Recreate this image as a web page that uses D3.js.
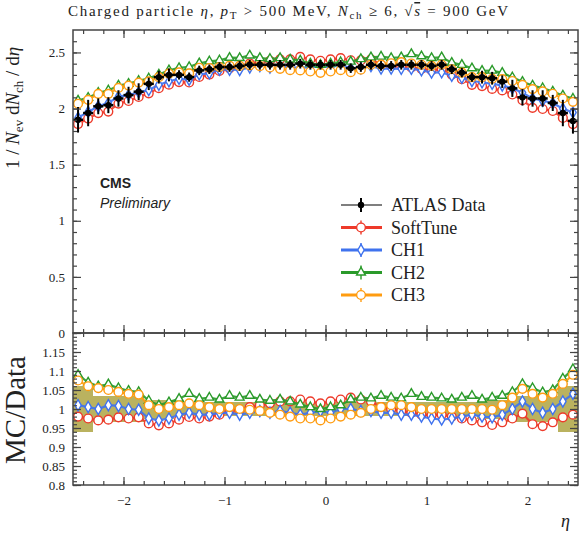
<!DOCTYPE html>
<html>
<head>
<meta charset="utf-8">
<script src="https://cdn.jsdelivr.net/npm/d3@7"></script>
<style>
    body { margin: 0; background: #fff; }
    text { font-family: "Liberation Serif", "DejaVu Serif", serif; fill: #222; }
</style>
</head>
<body>
<svg id="chart" width="580" height="534"></svg>
<script>
    'use strict';

    // bin centres in eta
    var etaCenters = [-2.45, -2.35, -2.25, -2.15, -2.05, -1.95, -1.85, -1.75, -1.65, -1.55,
        -1.45, -1.35, -1.25, -1.15, -1.05, -0.95, -0.85, -0.75, -0.65, -0.55,
        -0.45, -0.35, -0.25, -0.15, -0.05, 0.05, 0.15, 0.25, 0.35, 0.45,
        0.55, 0.65, 0.75, 0.85, 0.95, 1.05, 1.15, 1.25, 1.35, 1.45,
        1.55, 1.65, 1.75, 1.85, 1.95, 2.05, 2.15, 2.25, 2.35, 2.45];
    var binHalfWidth = 0.05;

    var atlasValues = [1.90, 1.96, 2.02, 2.03, 2.09, 2.12, 2.15, 2.22, 2.28, 2.30,
        2.30, 2.28, 2.34, 2.35, 2.37, 2.37, 2.38, 2.39, 2.39, 2.39,
        2.39, 2.39, 2.40, 2.39, 2.39, 2.39, 2.39, 2.36, 2.37, 2.39,
        2.38, 2.38, 2.39, 2.39, 2.39, 2.38, 2.39, 2.35, 2.32, 2.28,
        2.28, 2.27, 2.24, 2.18, 2.10, 2.09, 2.09, 2.05, 1.96, 1.89];

    // relative uncertainty of the data (ratio band)
    var atlasRelErr = [0.06, 0.06, 0.035, 0.035, 0.035, 0.035, 0.035, 0.025, 0.025, 0.025,
        0.018, 0.018, 0.018, 0.018, 0.018, 0.018, 0.018, 0.018, 0.018, 0.018,
        0.018, 0.018, 0.018, 0.018, 0.018, 0.018, 0.018, 0.018, 0.018, 0.018,
        0.018, 0.018, 0.018, 0.018, 0.018, 0.018, 0.018, 0.018, 0.018, 0.018,
        0.025, 0.025, 0.025, 0.035, 0.035, 0.035, 0.035, 0.035, 0.06, 0.06];

    // MC / Data
    var softTuneRatio = [0.98, 0.975, 0.97, 0.972, 0.978, 0.975, 0.978, 0.962, 0.957, 0.962,
        0.972, 0.979, 0.975, 0.98, 0.985, 0.995, 0.998, 1.005, 1.01, 1.015,
        1.02, 1.02, 1.025, 1.02, 1.015, 1.02, 1.025, 1.03, 1.025, 1.02,
        1.005, 1.0, 0.995, 0.99, 0.985, 0.983, 0.985, 0.98, 0.975, 0.97,
        0.965, 0.958, 0.965, 0.975, 0.988, 0.96, 0.955, 0.965, 0.978, 0.985];
    var ch1Ratio = [1.01, 1.005, 1.0, 1.01, 1.008, 1.0, 0.998, 0.975, 0.97, 0.975,
        0.985, 0.99, 0.985, 0.985, 0.99, 0.99, 0.985, 0.99, 0.995, 0.99,
        0.995, 0.99, 0.985, 0.99, 0.995, 0.99, 1.0, 1.0, 0.995, 0.995,
        0.99, 0.99, 0.985, 0.985, 0.98, 0.975, 0.972, 0.975, 0.98, 0.985,
        0.98, 0.978, 0.985, 1.0, 1.02, 1.0, 0.99, 1.0, 1.02, 1.04];
    var ch2Ratio = [1.09, 1.07, 1.06, 1.065, 1.055, 1.048, 1.045, 1.022, 1.01, 1.018,
        1.027, 1.04, 1.027, 1.03, 1.025, 1.035, 1.03, 1.035, 1.025, 1.022,
        1.025, 1.02, 1.012, 1.005, 1.0, 1.005, 1.01, 1.025, 1.03, 1.028,
        1.035, 1.03, 1.028, 1.04, 1.032, 1.03, 1.028, 1.025, 1.03, 1.035,
        1.025, 1.03, 1.035, 1.045, 1.066, 1.055, 1.044, 1.05, 1.08, 1.105];
    var ch3Ratio = [1.075, 1.06, 1.055, 1.05, 1.045, 1.04, 1.038, 1.01, 1.0, 1.005,
        1.01, 1.015, 1.01, 1.005, 1.0, 1.005, 1.0, 0.998, 0.995, 0.99,
        0.985, 0.98, 0.975, 0.975, 0.97, 0.975, 0.98, 0.985, 0.99, 1.0,
        1.005, 1.01, 1.01, 1.005, 1.0, 1.0, 1.0, 1.0, 1.0, 1.0,
        1.0, 0.998, 1.01, 1.03, 1.053, 1.04, 1.03, 1.04, 1.066, 1.09];

    var seriesNames = ['SoftTune', 'CH1', 'CH2', 'CH3'];
    var seriesRatios = [softTuneRatio, ch1Ratio, ch2Ratio, ch3Ratio];
    var seriesColors = ['#ee3a2a', '#3f72ee', '#2a9a2a', '#ff9c10'];

    var topTicks = [0, 0.5, 1, 1.5, 2, 2.5];
    var ratioTicks = [0.8, 0.85, 0.9, 0.95, 1, 1.05, 1.1, 1.15];
    var etaTicks = [-2, -1, 0, 1, 2];

(function() {
    var seriesSymbols = [d3.symbolCircle, d3.symbolDiamond, d3.symbolTriangle, d3.symbolCircle];
    var symbolSizes = [60, 36, 34, 60];

    var svg = d3.select('#chart');
    var left = 73, right = 578, top = 30, mid = 333, bottom = 485;
    var sans = '"Liberation Sans", Arial, sans-serif';

    var x = d3.scaleLinear().domain([-2.5, 2.5]).range([left, right]);
    var yTop = d3.scaleLinear().domain([0, 2.7]).range([mid, top]);
    var yRat = d3.scaleLinear().domain([0.8, 1.2]).range([bottom, mid]);

    var defs = svg.append('defs');
    defs.append('clipPath').attr('id', 'clipTop').append('rect')
        .attr('x', left).attr('y', top).attr('width', right - left).attr('height', mid - top);
    defs.append('clipPath').attr('id', 'clipRat').append('rect')
        .attr('x', left).attr('y', mid).attr('width', right - left).attr('height', bottom - mid);

    var fmt = function(d) {
        var s = String(+d.toFixed(2));
        return d < 0 ? '\u2212' + s.slice(1) : s;
    };

    var bins = etaCenters.map(function(eta, i) {
        return { eta: eta, data: atlasValues[i], err: atlasRelErr[i] };
    });

    // ratio band
    var gRat = svg.append('g').attr('clip-path', 'url(#clipRat)');
    gRat.selectAll('rect.band')
        .data(bins)
        .enter().append('rect')
        .attr('class', 'band')
        .attr('x', function(d) { return x(d.eta - binHalfWidth); })
        .attr('width', function(d) { return x(d.eta + binHalfWidth) - x(d.eta - binHalfWidth); })
        .attr('y', function(d) { return yRat(1 + d.err); })
        .attr('height', function(d) { return yRat(1 - d.err) - yRat(1 + d.err); })
        .attr('fill', '#aea443')
        .attr('fill-opacity', 0.85)
        .attr('shape-rendering', 'crispEdges');

    var gTop = svg.append('g').attr('clip-path', 'url(#clipTop)');

    function drawSeries(g, ratio, k, yScale, inRatio) {
        var pts = etaCenters.map(function(eta, i) {
            return { eta: eta, v: inRatio ? ratio[i] : ratio[i] * atlasValues[i] };
        });
        var color = seriesColors[k];
        g.append('path')
            .datum(pts)
            .attr('fill', 'none')
            .attr('stroke', color)
            .attr('stroke-width', 2.2)
            .attr('stroke-opacity', 0.9)
            .attr('d', d3.line()
                .x(function(d) { return x(d.eta); })
                .y(function(d) { return yScale(d.v); }));
        var sym = d3.symbol().type(seriesSymbols[k]).size(symbolSizes[k]);
        g.selectAll('path.m' + k)
            .data(pts)
            .enter().append('path')
            .attr('class', 'm' + k)
            .attr('transform', function(d) { return 'translate(' + x(d.eta) + ',' + yScale(d.v) + ')'; })
            .attr('d', sym)
            .attr('fill', '#fff')
            .attr('stroke', color)
            .attr('stroke-width', 1.4);
    }

    seriesRatios.forEach(function(r, k) {
        drawSeries(gTop, r, k, yTop, false);
        drawSeries(gRat, r, k, yRat, true);
    });

    // data points
    var dataG = gTop.append('g');
    dataG.selectAll('line.ev')
        .data(bins)
        .enter().append('line')
        .attr('x1', function(d) { return x(d.eta); })
        .attr('x2', function(d) { return x(d.eta); })
        .attr('y1', function(d) { return yTop(d.data * (1 + d.err)); })
        .attr('y2', function(d) { return yTop(d.data * (1 - d.err)); })
        .attr('stroke', '#000')
        .attr('stroke-width', 2);
    dataG.selectAll('line.eh')
        .data(bins)
        .enter().append('line')
        .attr('x1', function(d) { return x(d.eta - binHalfWidth); })
        .attr('x2', function(d) { return x(d.eta + binHalfWidth); })
        .attr('y1', function(d) { return yTop(d.data); })
        .attr('y2', function(d) { return yTop(d.data); })
        .attr('stroke', '#000')
        .attr('stroke-width', 2.5);
    dataG.selectAll('circle')
        .data(bins)
        .enter().append('circle')
        .attr('cx', function(d) { return x(d.eta); })
        .attr('cy', function(d) { return yTop(d.data); })
        .attr('r', 3.2)
        .attr('fill', '#000');

    // axes
    var axisColor = '#444';
    function styleAxis(g) {
        g.select('.domain').remove();
        g.selectAll('line').attr('stroke', axisColor).attr('stroke-width', 1.2);
        g.selectAll('text').attr('font-size', 13).attr('fill', '#222');
    }
    function addAxis(axis, tx, ty, ticks, size, labels) {
        var g = svg.append('g').attr('transform', 'translate(' + tx + ',' + ty + ')')
            .call(axis.tickValues(ticks).tickSize(-size).tickPadding(labels ? 8 : 0)
                .tickFormat(labels ? fmt : function() { return ''; }));
        styleAxis(g);
        return g;
    }

    var topMinor = d3.range(0, 27).map(function(i) { return i / 10; });
    var ratMinor = d3.range(80, 121).map(function(i) { return i / 100; });
    var etaMinor = d3.range(-12, 13).map(function(i) { return i / 5; });

    // top panel
    addAxis(d3.axisLeft(yTop), left, 0, topMinor, 4, false);
    addAxis(d3.axisLeft(yTop), left, 0, topTicks, 8, true);
    addAxis(d3.axisRight(yTop), right, 0, topMinor, 4, false);
    addAxis(d3.axisRight(yTop), right, 0, topTicks, 8, false);
    addAxis(d3.axisTop(x), 0, top, etaMinor, 4, false);
    addAxis(d3.axisTop(x), 0, top, etaTicks, 8, false);
    addAxis(d3.axisBottom(x), 0, mid, etaMinor, 4, false);
    addAxis(d3.axisBottom(x), 0, mid, etaTicks, 8, false);

    // ratio panel
    addAxis(d3.axisLeft(yRat), left, 0, ratMinor, 4, false);
    addAxis(d3.axisLeft(yRat), left, 0, ratioTicks, 8, true);
    addAxis(d3.axisRight(yRat), right, 0, ratMinor, 4, false);
    addAxis(d3.axisRight(yRat), right, 0, ratioTicks, 8, false);
    addAxis(d3.axisTop(x), 0, mid, etaMinor, 4, false);
    addAxis(d3.axisTop(x), 0, mid, etaTicks, 8, false);
    addAxis(d3.axisBottom(x), 0, bottom, etaMinor, 4, false);
    var xAx = addAxis(d3.axisBottom(x), 0, bottom, etaTicks, 8, true);
    xAx.selectAll('text').attr('dy', '0.9em');

    // frames
    [[top, mid], [mid, bottom]].forEach(function(p) {
        svg.append('rect')
            .attr('x', left).attr('y', p[0])
            .attr('width', right - left).attr('height', p[1] - p[0])
            .attr('fill', 'none').attr('stroke', axisColor).attr('stroke-width', 1.5);
    });

    // texts
    var title = svg.append('text').attr('x', 68).attr('y', 16).attr('font-size', 15)
        .attr('textLength', 440).attr('lengthAdjust', 'spacing');
    title.append('tspan').text('Charged particle ');
    title.append('tspan').attr('font-style', 'italic').text('\u03b7');
    title.append('tspan').text(', ');
    title.append('tspan').attr('font-style', 'italic').text('p');
    title.append('tspan').attr('font-size', 11).attr('dy', 3).text('T');
    title.append('tspan').attr('dy', -3).text(' > 500 MeV, ');
    title.append('tspan').attr('font-style', 'italic').text('N');
    title.append('tspan').attr('font-size', 11).attr('dy', 3).text('ch');
    title.append('tspan').attr('dy', -3).text(' \u2265 6, \u221a');
    title.append('tspan').attr('font-style', 'italic').attr('text-decoration', 'overline').text('s');
    title.append('tspan').text(' = 900 GeV');

    var yLab = svg.append('text')
        .attr('transform', 'translate(19,108) rotate(-90)')
        .attr('text-anchor', 'middle')
        .attr('font-size', 19);
    yLab.append('tspan').text('1 / ');
    yLab.append('tspan').attr('font-style', 'italic').text('N');
    yLab.append('tspan').attr('font-size', 13).attr('dy', 4).text('ev');
    yLab.append('tspan').attr('dy', -4).text(' d');
    yLab.append('tspan').attr('font-style', 'italic').text('N');
    yLab.append('tspan').attr('font-size', 13).attr('dy', 4).text('ch');
    yLab.append('tspan').attr('dy', -4).text(' / d');
    yLab.append('tspan').attr('font-style', 'italic').text('\u03b7');

    svg.append('text')
        .attr('transform', 'translate(25,410) rotate(-90)')
        .attr('text-anchor', 'middle')
        .attr('font-size', 29)
        .text('MC/Data');

    svg.append('text')
        .attr('x', 570).attr('y', 527)
        .attr('text-anchor', 'end')
        .attr('font-size', 18)
        .attr('font-style', 'italic')
        .text('\u03b7');

    svg.append('text')
        .attr('x', 100).attr('y', 188)
        .style('font-family', sans)
        .attr('font-weight', 'bold')
        .attr('font-size', 14)
        .text('CMS');
    svg.append('text')
        .attr('x', 100).attr('y', 208)
        .style('font-family', sans)
        .attr('font-style', 'italic')
        .attr('font-size', 14)
        .text('Preliminary');

    // legend
    var legendNames = ['ATLAS Data'].concat(seriesNames);
    var legend = svg.append('g').attr('transform', 'translate(341,205)');
    legendNames.forEach(function(name, i) {
        var row = legend.append('g').attr('transform', 'translate(0,' + (i * 22.5) + ')');
        if (i === 0) {
            row.append('line').attr('x1', 0).attr('x2', 41).attr('stroke', '#000').attr('stroke-width', 1.2);
            row.append('line').attr('x1', 20).attr('x2', 20).attr('y1', -7).attr('y2', 7)
                .attr('stroke', '#000').attr('stroke-width', 2);
            row.append('circle').attr('cx', 20).attr('r', 3.2).attr('fill', '#000');
        } else {
            var k = i - 1;
            row.append('line').attr('x1', 0).attr('x2', 41)
                .attr('stroke', seriesColors[k]).attr('stroke-width', 3);
            row.append('line').attr('x1', 20).attr('x2', 20).attr('y1', -7).attr('y2', 7)
                .attr('stroke', seriesColors[k]).attr('stroke-width', 1.4);
            row.append('path')
                .attr('transform', 'translate(20,0)')
                .attr('d', d3.symbol().type(seriesSymbols[k]).size(symbolSizes[k]))
                .attr('fill', '#fff')
                .attr('stroke', seriesColors[k])
                .attr('stroke-width', 1.4);
        }
        row.append('text').attr('x', 50).attr('y', 6).attr('font-size', 18).text(name);
    });
}());
</script>
</body>
</html>
